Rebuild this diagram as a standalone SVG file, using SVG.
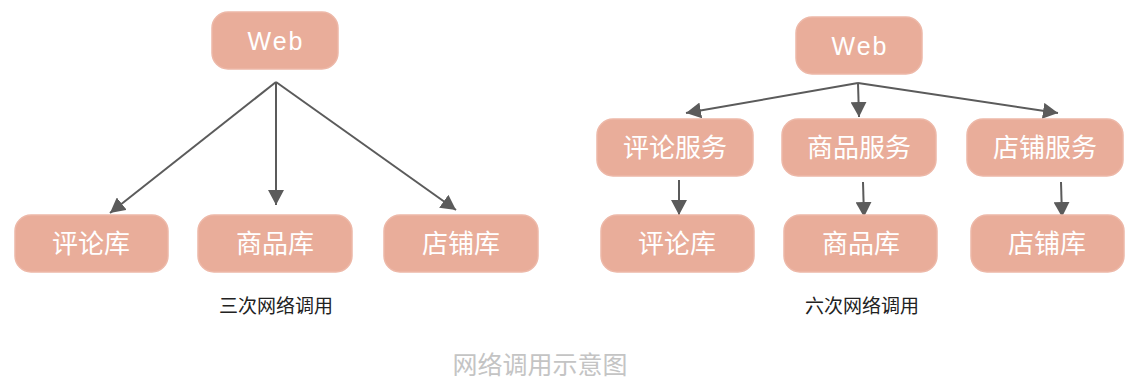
<svg xmlns="http://www.w3.org/2000/svg" width="1142" height="392" viewBox="0 0 1142 392">
<style>
.box{fill:#E9AD9A;stroke:#EDB8A8;stroke-width:1.5}
.lbl{fill:#ffffff;font-family:"Noto Sans CJK SC","Noto Sans",sans-serif;font-size:26px;text-anchor:middle}
.web{fill:#ffffff;font-family:"Liberation Sans","Noto Sans",sans-serif;font-size:25px;text-anchor:middle;letter-spacing:2px}
.cap{fill:#222222;font-family:"Noto Sans CJK SC",sans-serif;font-size:19px;text-anchor:middle}
.title{fill:#c4c4c4;font-family:"Noto Sans CJK SC",sans-serif;font-size:25px;text-anchor:middle}
.conn{stroke:#5b5b5b;stroke-width:2;fill:none;marker-end:url(#ah)}
</style>
<defs>
<marker id="ah" markerUnits="userSpaceOnUse" markerWidth="16" markerHeight="16" refX="15" refY="8" orient="auto" viewBox="0 0 16 16">
<path d="M0,0 L15,8 L0,16 z" fill="#5b5b5b"/>
</marker>
</defs>
<rect width="1142" height="392" fill="#ffffff"/>
<g id="connectors">
<line class="conn" x1="276" y1="82" x2="110" y2="213"/>
<line class="conn" x1="276" y1="82" x2="276" y2="205"/>
<line class="conn" x1="276" y1="82" x2="456" y2="210"/>
<line class="conn" x1="858" y1="83" x2="686" y2="113"/>
<line class="conn" x1="858" y1="83" x2="859" y2="117"/>
<line class="conn" x1="858" y1="83" x2="1058" y2="113"/>
<line class="conn" x1="679" y1="180" x2="679" y2="215"/>
<line class="conn" x1="863" y1="182" x2="864" y2="217"/>
<line class="conn" x1="1061" y1="182" x2="1062" y2="217"/>
</g>
<g id="web1"><rect class="box" x="212" y="12" width="126" height="57" rx="16"/><text class="web" x="276" y="50">Web</text></g>
<g id="db1a"><rect class="box" x="15" y="215" width="153" height="57" rx="16"/><text class="lbl" x="91" y="253">评论库</text></g>
<g id="db1b"><rect class="box" x="198" y="215" width="154" height="57" rx="16"/><text class="lbl" x="275" y="253">商品库</text></g>
<g id="db1c"><rect class="box" x="384" y="215" width="154" height="57" rx="16"/><text class="lbl" x="461" y="253">店铺库</text></g>
<g id="cap1"><text class="cap" x="276" y="313">三次网络调用</text></g>
<g id="web2"><rect class="box" x="796" y="17" width="126" height="57" rx="16"/><text class="web" x="860" y="55">Web</text></g>
<g id="svc1"><rect class="box" x="597" y="119" width="156" height="57" rx="16"/><text class="lbl" x="675" y="157">评论服务</text></g>
<g id="svc2"><rect class="box" x="782" y="119" width="154" height="57" rx="16"/><text class="lbl" x="859" y="157">商品服务</text></g>
<g id="svc3"><rect class="box" x="967" y="119" width="156" height="57" rx="16"/><text class="lbl" x="1045" y="157">店铺服务</text></g>
<g id="db2a"><rect class="box" x="601" y="215" width="153" height="57" rx="16"/><text class="lbl" x="677" y="253">评论库</text></g>
<g id="db2b"><rect class="box" x="784" y="215" width="153" height="57" rx="16"/><text class="lbl" x="861" y="253">商品库</text></g>
<g id="db2c"><rect class="box" x="971" y="215" width="153" height="57" rx="16"/><text class="lbl" x="1047" y="253">店铺库</text></g>
<g id="cap2"><text class="cap" x="862" y="313">六次网络调用</text></g>
<g id="title"><text class="title" x="540" y="374">网络调用示意图</text></g>
</svg>
